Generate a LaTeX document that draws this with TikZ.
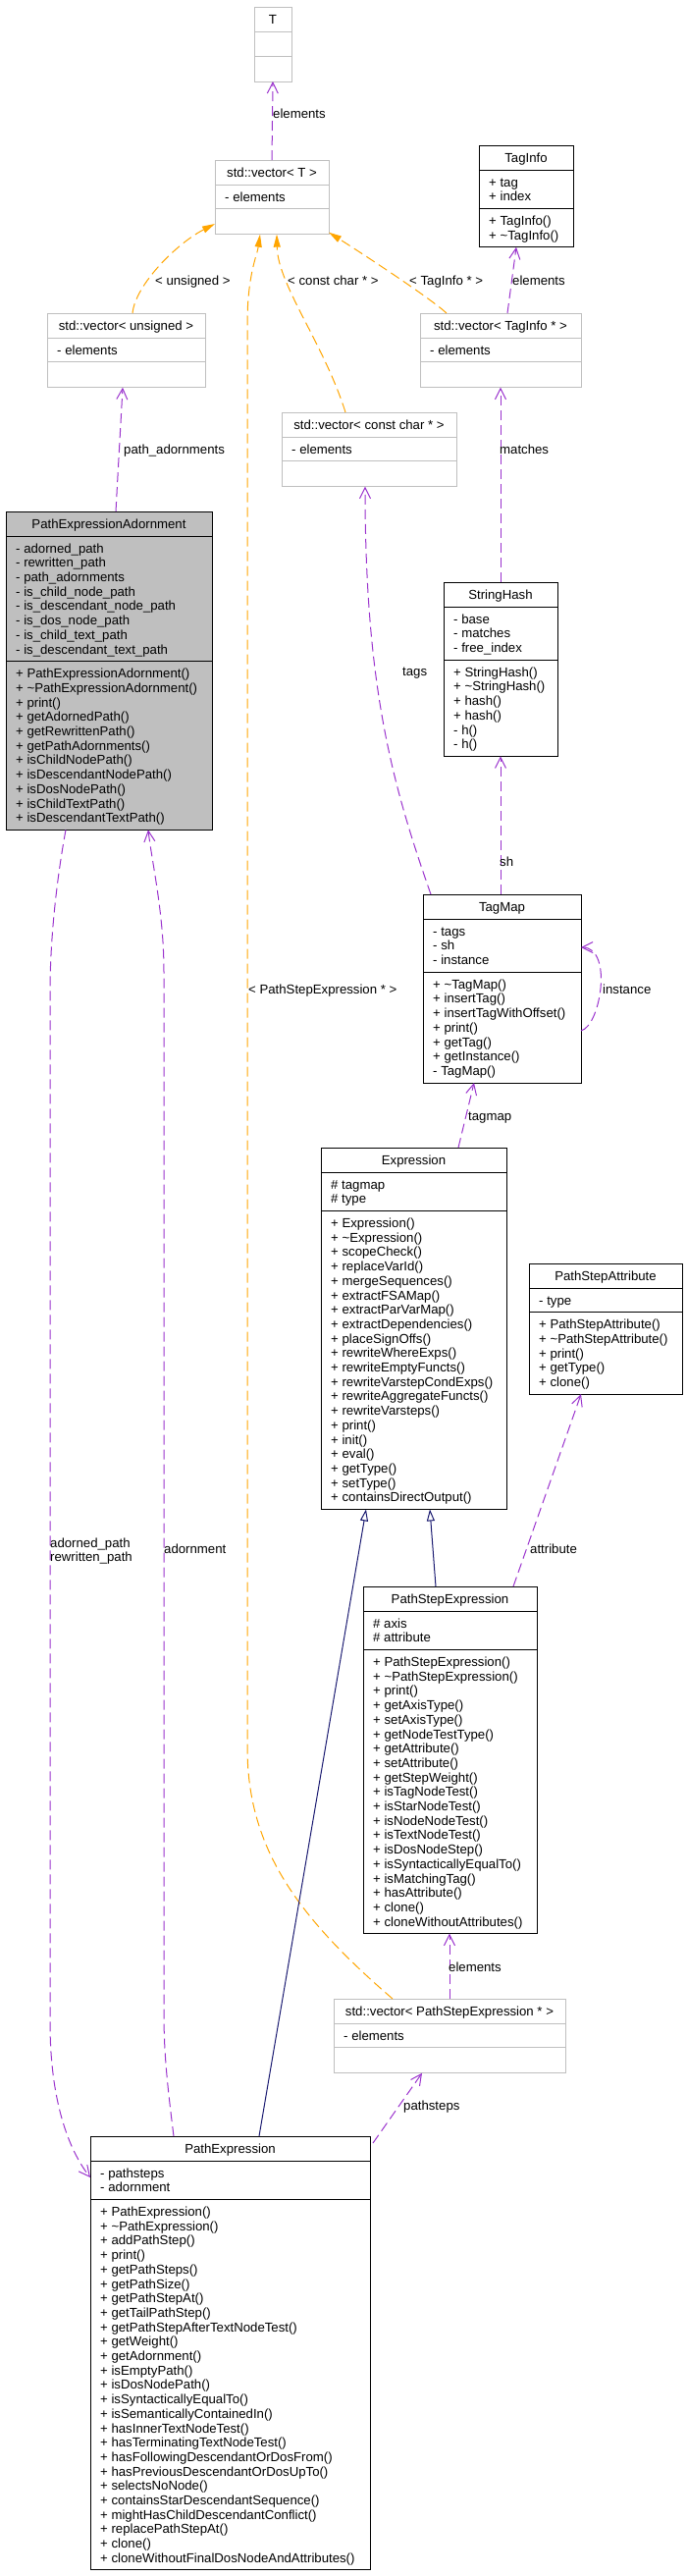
\documentclass[tikz,border=0pt]{standalone}
\usepackage{fontspec}
\setmainfont{Liberation Sans}
\usetikzlibrary{arrows.meta,calc}
\definecolor{orchid}{RGB}{154,50,205}
\definecolor{greyS}{RGB}{191,191,191}
\definecolor{mblue}{RGB}{25,25,112}
\definecolor{orng}{RGB}{255,165,0}
\newcommand\cf{\fontsize{13.2}{14.7}\selectfont}
\newcommand\fs{\rule{0pt}{11.9pt}}
\tikzset{
 gcls/.style={draw=greyS, fill=white, line width=1pt, inner sep=0pt, outer sep=0pt},
 gcls line/.style={draw=greyS, line width=1pt},
 bcls/.style={draw=black, fill=white, line width=1pt, inner sep=0pt, outer sep=0pt},
 bcls line/.style={draw=black, line width=1pt},
 acls/.style={draw=black, fill=greyS, line width=1pt, inner sep=0pt, outer sep=0pt},
 acls line/.style={draw=black, line width=1pt},
 ttl/.style={anchor=base, inner sep=0pt, font=\cf},
 body/.style={anchor=north west, inner sep=0pt, align=left, font=\cf},
 lbl/.style={anchor=base west, inner sep=0pt, font=\cf},
 use/.style={draw=orchid, line width=1pt, dash pattern=on 10pt off 5pt, -{Straight Barb[length=11pt,width=11pt]}},
 tmpl/.style={draw=orng, line width=1pt, dash pattern=on 10pt off 5pt, -{Triangle[length=13pt,width=7pt]}},
 inh/.style={draw=mblue, line width=1pt, -{Triangle[open,length=12pt,width=8pt,fill=white]}},
}
% name, style, x, y, w, h_attr, h_meth, title
\newcommand\clsbox[8]{%
  \node[#2, minimum width=#5pt, minimum height=25pt+#6pt+#7pt, anchor=north west] (#1) at (#3,#4) {};
  \draw[#2 line] ($(#1.north west)+(0,25)$) -- ($(#1.north east)+(0,25)$);
  \draw[#2 line] ($(#1.north west)+(0,25+#6)$) -- ($(#1.north east)+(0,25+#6)$);
  \node[ttl] (#1-t) at ($(#1.north)+(0,17)$) {#8};
  \coordinate (#1-a) at ($(#1.north west)+(10,30)$);
  \coordinate (#1-m) at ($(#1.north west)+(10,30+#6)$);
}
\begin{document}
\begin{tikzpicture}[x=1pt,y=-1pt]
\useasboundingbox (0,0) rectangle (699,2624);
% ---------------- classes
\clsbox{T}{gcls}{259}{7}{38}{25}{26}{T}
\clsbox{vT}{gcls}{219}{163}{116}{24.7}{26}{std::vector< T >}
\node[body] (vT-at) at (vT-a) {\fs - elements};
\clsbox{TagInfo}{bcls}{488}{148}{96}{39.4}{39.4}{TagInfo}
\node[body] (TagInfo-at) at (TagInfo-a) {\fs + tag\\+ index};
\node[body] (TagInfo-mt) at (TagInfo-m) {\fs + TagInfo()\\+ \textasciitilde TagInfo()};
\clsbox{vU}{gcls}{48}{319}{161}{24.7}{26}{std::vector< unsigned >}
\node[body] (vU-at) at (vU-a) {\fs - elements};
\clsbox{vTI}{gcls}{428}{319}{164}{24.7}{26}{std::vector< TagInfo * >}
\node[body] (vTI-at) at (vTI-a) {\fs - elements};
\clsbox{vCC}{gcls}{287}{420}{178}{24.7}{26}{std::vector< const char * >}
\node[body] (vCC-at) at (vCC-a) {\fs - elements};
\clsbox{PEA}{acls}{6}{521}{210}{127.6}{171.7}{PathExpressionAdornment}
\node[body] (PEA-at) at (PEA-a) {\fs - adorned\_path\\- rewritten\_path\\- path\_adornments\\- is\_child\_node\_path\\- is\_descendant\_node\_path\\- is\_dos\_node\_path\\- is\_child\_text\_path\\- is\_descendant\_text\_path};
\node[body] (PEA-mt) at (PEA-m) {\fs + PathExpressionAdornment()\\+ \textasciitilde PathExpressionAdornment()\\+ print()\\+ getAdornedPath()\\+ getRewrittenPath()\\+ getPathAdornments()\\+ isChildNodePath()\\+ isDescendantNodePath()\\+ isDosNodePath()\\+ isChildTextPath()\\+ isDescendantTextPath()};
\clsbox{SH}{bcls}{452}{593}{116}{54.1}{98.2}{StringHash}
\node[body] (SH-at) at (SH-a) {\fs - base\\- matches\\- free\_index};
\node[body] (SH-mt) at (SH-m) {\fs + StringHash()\\+ \textasciitilde StringHash()\\+ hash()\\+ hash()\\- h()\\- h()};
\clsbox{TM}{bcls}{431}{911}{161}{54.1}{112.9}{TagMap}
\node[body] (TM-at) at (TM-a) {\fs - tags\\- sh\\- instance};
\node[body] (TM-mt) at (TM-m) {\fs + \textasciitilde TagMap()\\+ insertTag()\\+ insertTagWithOffset()\\+ print()\\+ getTag()\\+ getInstance()\\- TagMap()};
\clsbox{Expr}{bcls}{327}{1169}{189}{39.4}{304}{Expression}
\node[body] (Expr-at) at (Expr-a) {\fs \# tagmap\\\# type};
\node[body] (Expr-mt) at (Expr-m) {\fs + Expression()\\+ \textasciitilde Expression()\\+ scopeCheck()\\+ replaceVarId()\\+ mergeSequences()\\+ extractFSAMap()\\+ extractParVarMap()\\+ extractDependencies()\\+ placeSignOffs()\\+ rewriteWhereExps()\\+ rewriteEmptyFuncts()\\+ rewriteVarstepCondExps()\\+ rewriteAggregateFuncts()\\+ rewriteVarsteps()\\+ print()\\+ init()\\+ eval()\\+ getType()\\+ setType()\\+ containsDirectOutput()};
\clsbox{PSA}{bcls}{539}{1287}{156}{24.7}{83.5}{PathStepAttribute}
\node[body] (PSA-at) at (PSA-a) {\fs - type};
\node[body] (PSA-mt) at (PSA-m) {\fs + PathStepAttribute()\\+ \textasciitilde PathStepAttribute()\\+ print()\\+ getType()\\+ clone()};
\clsbox{PSE}{bcls}{370}{1616}{177}{39.4}{289.3}{PathStepExpression}
\node[body] (PSE-at) at (PSE-a) {\fs \# axis\\\# attribute};
\node[body] (PSE-mt) at (PSE-m) {\fs + PathStepExpression()\\+ \textasciitilde PathStepExpression()\\+ print()\\+ getAxisType()\\+ setAxisType()\\+ getNodeTestType()\\+ getAttribute()\\+ setAttribute()\\+ getStepWeight()\\+ isTagNodeTest()\\+ isStarNodeTest()\\+ isNodeNodeTest()\\+ isTextNodeTest()\\+ isDosNodeStep()\\+ isSyntacticallyEqualTo()\\+ isMatchingTag()\\+ hasAttribute()\\+ clone()\\+ cloneWithoutAttributes()};
\clsbox{vPSE}{gcls}{340}{2036}{236}{24.7}{26}{std::vector< PathStepExpression * >}
\node[body] (vPSE-at) at (vPSE-a) {\fs - elements};
\clsbox{PE}{bcls}{92}{2176}{285}{39.4}{377.5}{PathExpression}
\node[body] (PE-at) at (PE-a) {\fs - pathsteps\\- adornment};
\node[body] (PE-mt) at (PE-m) {\fs + PathExpression()\\+ \textasciitilde PathExpression()\\+ addPathStep()\\+ print()\\+ getPathSteps()\\+ getPathSize()\\+ getPathStepAt()\\+ getTailPathStep()\\+ getPathStepAfterTextNodeTest()\\+ getWeight()\\+ getAdornment()\\+ isEmptyPath()\\+ isDosNodePath()\\+ isSyntacticallyEqualTo()\\+ isSemanticallyContainedIn()\\+ hasInnerTextNodeTest()\\+ hasTerminatingTextNodeTest()\\+ hasFollowingDescendantOrDosFrom()\\+ hasPreviousDescendantOrDosUpTo()\\+ selectsNoNode()\\+ containsStarDescendantSequence()\\+ mightHasChildDescendantConflict()\\+ replacePathStepAt()\\+ clone()\\+ cloneWithoutFinalDosNodeAndAttributes()};
% ---------------- connectors
\draw[use] (vT.north) -- (T.south);
\node[lbl] (l1) at (278,120) {elements};
\draw[use] ($(vTI.north west)+(89,0)$) -- ($(TagInfo.south west)+(38,0)$);
\node[lbl] (l2) at (522,290) {elements};
\draw[tmpl] ($(vU.north west)+(87,0)$) .. controls (138,290) and (180,248) .. ($(vT.north west)+(0,65)$);
\node[lbl] (l3) at (158,290) {< unsigned >};
\draw[tmpl] ($(vCC.north west)+(65,0)$) .. controls (330,350) and (283,290) .. ($(vT.south west)+(63,0)$);
\node[lbl] (l4) at (293,290) {< const char * >};
\draw[tmpl] ($(vTI.north west)+(27,0)$) .. controls (440,305) and (375,262) .. ($(vT.south east)+(0,-2)$);
\node[lbl] (l5) at (417,290) {< TagInfo * >};
\draw[tmpl] ($(vPSE.north west)+(60,0)$) .. controls (300,1950) and (252,1880) .. (252,1780) -- (252,330) .. controls (252,280) and (262,260) .. ($(vT.south west)+(46,0)$);
\node[lbl] (l6) at (253,1012) {< PathStepExpression * >};
\draw[use] ($(PEA.north west)+(112,0)$) -- ($(vU.south west)+(77,0)$);
\node[lbl] (l7) at (126,462) {path\_adornments};
\draw[use] ($(TM.north west)+(8,0)$) .. controls (400,800) and (372,700) .. ($(vCC.south west)+(85,0)$);
\node[lbl] (l8) at (410,688) {tags};
\draw[use] (SH.north) -- (vTI.south);
\node[lbl] (l9) at (509,462) {matches};
\draw[use] ($(TM.north west)+(79,0)$) -- (SH.south);
\node[lbl] (l10) at (509,882) {sh};
\draw[use] ($(TM.north east)+(0,139)$) .. controls (612,1045) and (625,965) .. ($(TM.north east)+(0,54)$);
\node[lbl] (l11) at (614,1012) {instance};
\draw[use] ($(Expr.north west)+(140,0)$) -- ($(TM.south west)+(52,0)$);
\node[lbl] (l12) at (477,1141) {tagmap};
\draw[inh] ($(PSE.north west)+(74,0)$) -- ($(Expr.south west)+(111,0)$);
\draw[inh] ($(PE.north west)+(172,0)$) -- ($(Expr.south west)+(46,0)$);
\draw[use] ($(PSE.north west)+(153,0)$) -- ($(PSA.south west)+(53,0)$);
\node[lbl] (l15) at (540,1582) {attribute};
\draw[use] ($(vPSE.north west)+(118,0)$) -- ($(PSE.south west)+(88,0)$);
\node[lbl] (l16) at (457,2008) {elements};
\draw[use] ($(PE.north east)+(3,7)$) -- ($(vPSE.south west)+(90,0)$);
\node[lbl] (l17) at (411,2149) {pathsteps};
\draw[use] ($(PE.north west)+(85,0)$) .. controls (170,2120) and (167,2090) .. (167,2050) -- (167,990) .. controls (167,930) and (155,880) .. ($(PEA.south west)+(145,0)$);
\node[lbl] (l18) at (167,1582) {adornment};
\draw[use] ($(PEA.south west)+(61,0)$) .. controls (57,900) and (51,960) .. (51,1010) -- (51,2060) .. controls (51,2140) and (70,2190) .. ($(PE.north west)+(0,42)$);
\node[body] (l19) at (51,1564) {\fs adorned\_path\\rewritten\_path};
\end{tikzpicture}
\end{document}
